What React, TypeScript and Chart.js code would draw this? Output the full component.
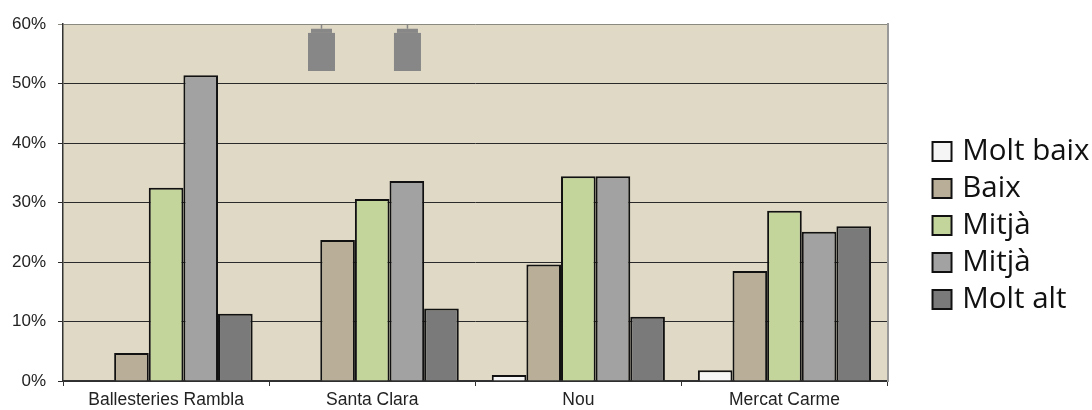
import React, { useEffect, useRef } from "react";
import { Chart, registerables } from "chart.js";

Chart.register(...registerables);

const categories = ["Ballesteries Rambla", "Santa Clara", "Nou", "Mercat Carme"];
const moltBaix = [0, 0, 1, 1.8];
const baix = [4.7, 23.7, 19.6, 18.5];
const mitja1 = [32.5, 30.6, 34.4, 28.6];
const mitja2 = [51.4, 33.6, 34.4, 25.1];
const moltAlt = [11.3, 12.2, 10.8, 26];
const yTicks = ["0%", "10%", "20%", "30%", "40%", "50%", "60%"];

// stray grey marks near the top of the plot: [category position, low %, high %, width px]
const strayMarks = [
  [0.754, 52.1, 58.5, 27],
  [0.754, 58.5, 59.2, 21],
  [0.754, 59.2, 60, 1.5],
  [1.171, 52.1, 58.5, 27],
  [1.171, 58.5, 59.2, 21],
  [1.171, 59.2, 60, 1.5],
];

const strayPlugin = {
  id: "stray",
  beforeDatasetsDraw(chart: any) {
    const { x, y } = chart.scales;
    const ctx = chart.ctx;
    const step = x.getPixelForValue(1) - x.getPixelForValue(0);
    const px = (v: number) => x.getPixelForValue(0) + v * step;
    ctx.save();
    ctx.fillStyle = "#878787";
    strayMarks.forEach(([c, lo, hi, w]) => {
      ctx.fillRect(px(c) - w / 2, y.getPixelForValue(hi), w, y.getPixelForValue(lo) - y.getPixelForValue(hi));
    });
    ctx.restore();
  },
};

const plotBgPlugin = {
  id: "plotBg",
  beforeDraw(chart: any) {
    const { left, top, width, height } = chart.chartArea;
    chart.ctx.save();
    chart.ctx.fillStyle = "#DFD9C5";
    chart.ctx.fillRect(left, top, width, height);
    chart.ctx.restore();
  },
};

const legendShiftPlugin = {
  id: "legendShift",
  afterLayout(chart: any) {
    const l = chart.legend;
    l.left += 7.5;
    l.right += 7.5;
    l.top += 6;
    l.bottom += 6;
  },
};

export default function App() {
  const ref = useRef<HTMLCanvasElement>(null);
  useEffect(() => {
    const mk = (label: string, data: number[], color: string) => ({
      label,
      data,
      backgroundColor: color,
      borderColor: "#111111",
      borderWidth: 2,
      categoryPercentage: 0.84,
      barPercentage: 1,
    });
    const chart = new Chart(ref.current!, {
      type: "bar",
      data: {
        labels: categories,
        datasets: [
          mk("Molt baix", moltBaix, "#F5F5F5"),
          mk("Baix", baix, "#B9AE97"),
          mk("Mitjà", mitja1, "#C4D59C"),
          mk("Mitjà", mitja2, "#A2A2A2"),
          mk("Molt alt", moltAlt, "#7A7A7A"),
        ],
      },
      plugins: [plotBgPlugin, strayPlugin, legendShiftPlugin],
      options: {
        animation: false,
        responsive: false,
        layout: { padding: { top: 24, left: 0, right: 0, bottom: -5 } },
        plugins: {
          tooltip: { enabled: false },
          legend: {
            position: "right",
            align: "center",
            labels: {
              color: "#111111",
              font: { family: "'Open Sans'", size: 29.5 },
              usePointStyle: true,
              pointStyle: "rect",
              boxWidth: 11,
              boxHeight: 19,
              padding: 7.5,
            },
          },
        },
        scales: {
          x: {
            border: { color: "#333333", width: 1.5 },
            grid: { drawOnChartArea: false, drawTicks: true, tickLength: 5, color: "#333333" },
            ticks: { color: "#222222", font: { family: "'Liberation Sans'", size: 17.5 }, maxRotation: 0, padding: 4 },
          },
          y: {
            min: 0,
            max: 60,
            border: { color: "#333333", width: 1.5 },
            grid: {
              color: (c: any) => (c.tick.value === 60 ? "#8A8A80" : "#2A2A2A"),
              tickLength: 5,
            },
            ticks: {
              stepSize: 10,
              color: "#222222",
              font: { family: "'Liberation Sans'", size: 17 },
              padding: 12,
              callback: (_v: any, i: number) => yTicks[i],
            },
          },
          gap: {
            position: "right",
            display: true,
            grid: { display: false },
            border: { display: true, color: "#999999", width: 2 },
            ticks: { display: false },
            afterFit: (s: any) => { s.width = 34; },
          },
        },
      } as any,
    });
    return () => chart.destroy();
  }, []);
  return (
    <div style={{ position: "fixed", left: 0, top: 0, width: 1092, height: 410, background: "#fff" }}>
      <canvas ref={ref} width={1092} height={410} style={{ display: "block" }} />
    </div>
  );
}
